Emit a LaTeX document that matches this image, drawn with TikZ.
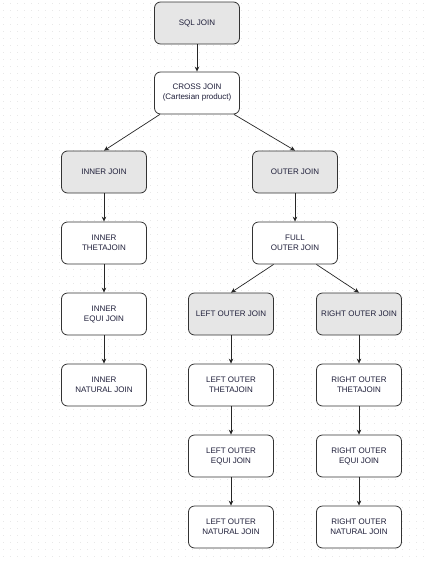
\documentclass[tikz,border=0pt]{standalone}
\usepackage{fontspec}
\setmainfont{Liberation Sans}
\usetikzlibrary{arrows.meta}
\definecolor{boxgray}{HTML}{E6E6E6}
\definecolor{txt}{HTML}{1F1F3A}
\definecolor{dotc}{HTML}{E8E8E8}
\tikzset{
  jbox/.style={draw=black!80, line width=0.8pt, rounded corners=6pt, minimum width=85pt, minimum height=42pt, align=center, font=\fontsize{8pt}{10pt}\selectfont, text=txt, inner sep=1pt},
  graybox/.style={jbox, fill=boxgray},
  whitebox/.style={jbox, fill=white},
  conn/.style={draw=black!85, line width=0.7pt, -{Stealth[length=5pt,width=4.5pt]}}
}
\begin{document}
\begin{tikzpicture}[x=1pt,y=-1pt]
\useasboundingbox (0,0) rectangle (428,563);
\fill[white] (0,0) rectangle (428,563);
\foreach \i in {0,...,60} {\foreach \j in {0,...,80} {\fill[dotc] (3+\i*7,3+\j*7) rectangle ++(1,1);}}
\node[graybox] (sql) at (197,23) {SQL JOIN};
\node[whitebox] (cross) at (197,93) {CROSS JOIN\\(Cartesian product)};
\node[graybox] (inner) at (104,172) {INNER JOIN};
\node[graybox] (outer) at (295,172) {OUTER JOIN};
\node[whitebox] (itheta) at (104,243) {INNER\\THETAJOIN};
\node[whitebox] (full) at (295,243) {FULL\\OUTER JOIN};
\node[whitebox] (iequi) at (104,314) {INNER\\EQUI JOIN};
\node[graybox] (left) at (231,314) {LEFT OUTER JOIN};
\node[graybox] (right) at (359,314) {RIGHT OUTER JOIN};
\node[whitebox] (inat) at (104,385) {INNER\\NATURAL JOIN};
\node[whitebox] (ltheta) at (231,385) {LEFT OUTER\\THETAJOIN};
\node[whitebox] (rtheta) at (359,385) {RIGHT OUTER\\THETAJOIN};
\node[whitebox] (lequi) at (231,456) {LEFT OUTER\\EQUI JOIN};
\node[whitebox] (requi) at (359,456) {RIGHT OUTER\\EQUI JOIN};
\node[whitebox] (lnat) at (231,527) {LEFT OUTER\\NATURAL JOIN};
\node[whitebox] (rnat) at (359,527) {RIGHT OUTER\\NATURAL JOIN};
\draw[conn] (sql) -- (cross);
\draw[conn] (cross.-150) -- (inner.north);
\draw[conn] (cross.-30) -- (outer.north);
\draw[conn] (inner) -- (itheta);
\draw[conn] (itheta) -- (iequi);
\draw[conn] (iequi) -- (inat);
\draw[conn] (outer) -- (full);
\draw[conn] (full.-135) -- (left.north);
\draw[conn] (full.-45) -- (right.north);
\draw[conn] (left) -- (ltheta);
\draw[conn] (ltheta) -- (lequi);
\draw[conn] (lequi) -- (lnat);
\draw[conn] (right) -- (rtheta);
\draw[conn] (rtheta) -- (requi);
\draw[conn] (requi) -- (rnat);
\end{tikzpicture}
\end{document}
